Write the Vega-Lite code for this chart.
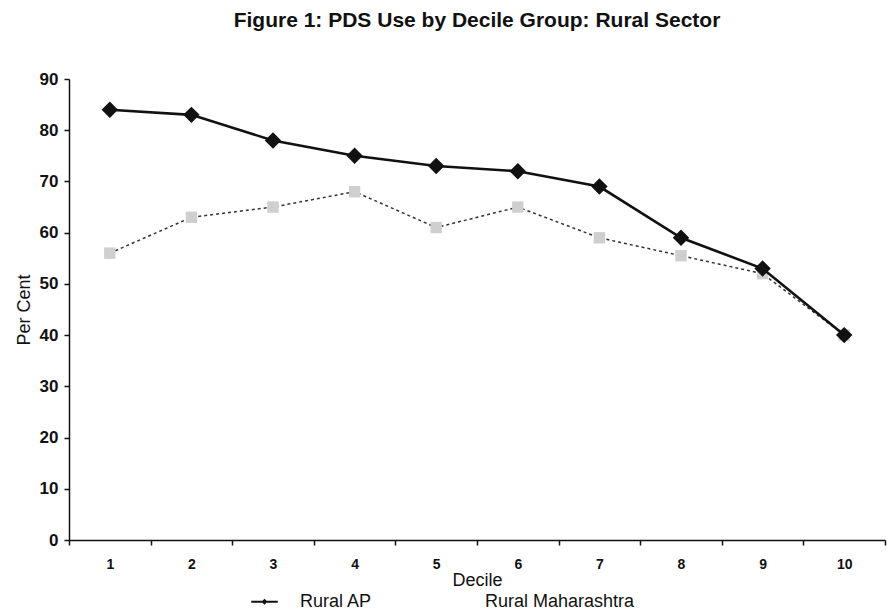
{
  "$schema": "https://vega.github.io/schema/vega-lite/v6.json",
  "width": 816,
  "height": 461,
  "autosize": {"type": "none"},
  "padding": {"left": 69, "top": 79, "right": 2, "bottom": 74},
  "background": "white",
  "config": {"view": {"stroke": null}, "font": "Liberation Sans"},
  "title": {"text": "Figure 1: PDS Use by Decile Group: Rural Sector", "font": "Liberation Sans", "fontSize": 21, "fontWeight": "bold", "color": "#111111", "anchor": "middle", "offset": 39},
  "data": {"values": [
    {"decile": 1, "series": "Rural AP", "value": 84},
    {"decile": 2, "series": "Rural AP", "value": 83},
    {"decile": 3, "series": "Rural AP", "value": 78},
    {"decile": 4, "series": "Rural AP", "value": 75},
    {"decile": 5, "series": "Rural AP", "value": 73},
    {"decile": 6, "series": "Rural AP", "value": 72},
    {"decile": 7, "series": "Rural AP", "value": 69},
    {"decile": 8, "series": "Rural AP", "value": 59},
    {"decile": 9, "series": "Rural AP", "value": 53},
    {"decile": 10, "series": "Rural AP", "value": 40},
    {"decile": 1, "series": "Rural Maharashtra", "value": 56},
    {"decile": 2, "series": "Rural Maharashtra", "value": 63},
    {"decile": 3, "series": "Rural Maharashtra", "value": 65},
    {"decile": 4, "series": "Rural Maharashtra", "value": 68},
    {"decile": 5, "series": "Rural Maharashtra", "value": 61},
    {"decile": 6, "series": "Rural Maharashtra", "value": 65},
    {"decile": 7, "series": "Rural Maharashtra", "value": 59},
    {"decile": 8, "series": "Rural Maharashtra", "value": 55.5},
    {"decile": 9, "series": "Rural Maharashtra", "value": 52},
    {"decile": 10, "series": "Rural Maharashtra", "value": 40}
  ]},
  "encoding": {
    "x": {"field": "decile", "type": "quantitative",
      "scale": {"domain": [0.5, 10.5], "nice": false, "zero": false},
      "axis": {
        "values": [0.5, 1, 1.5, 2, 2.5, 3, 3.5, 4, 4.5, 5, 5.5, 6, 6.5, 7, 7.5, 8, 8.5, 9, 9.5, 10, 10.5],
        "labelExpr": "datum.value % 1 == 0 ? format(datum.value, 'd') : ''",
        "tickOpacity": {"condition": {"test": "datum.value % 1 != 0", "value": 1}, "value": 0},
        "grid": false, "domainColor": "#111111", "domainWidth": 1.5, "tickColor": "#111111", "tickSize": 5, "tickWidth": 1.5,
        "labelFont": "Liberation Sans", "labelFontSize": 14, "labelFontWeight": "bold", "labelColor": "#111111", "labelPadding": 12,
        "title": "Decile", "titleFont": "Liberation Sans", "titleFontSize": 18, "titleFontWeight": "normal", "titleColor": "#111111", "titlePadding": 0
      }},
    "y": {"field": "value", "type": "quantitative",
      "scale": {"domain": [0, 90], "nice": false},
      "axis": {
        "values": [0, 10, 20, 30, 40, 50, 60, 70, 80, 90],
        "grid": false, "domainColor": "#111111", "domainWidth": 1.5, "tickColor": "#111111", "tickSize": 5, "tickWidth": 1.5,
        "labelFont": "Liberation Sans", "labelFontSize": 17, "labelFontWeight": "bold", "labelColor": "#111111", "labelPadding": 6,
        "title": "Per Cent", "titleFont": "Liberation Sans", "titleFontSize": 18, "titleFontWeight": "normal", "titleColor": "#111111", "titlePadding": 6
      }}
  },
  "layer": [
    {
      "transform": [{"filter": "datum.series === 'Rural Maharashtra'"}],
      "mark": {"type": "line", "strokeWidth": 1.5, "strokeDash": [3, 3]},
      "encoding": {
        "color": {"field": "series", "type": "nominal",
          "scale": {"domain": ["Rural AP", "Rural Maharashtra"], "range": ["#111111", "#333333"]},
          "legend": {
            "orient": "none", "legendX": 168, "legendY": 495, "direction": "horizontal", "title": null,
            "symbolType": "M-0.5,0L0.5,0M0,-0.06L0.06,0L0,0.06L-0.06,0Z", "symbolSize": 2809, "symbolStrokeWidth": 2,
            "labelFont": "Liberation Sans", "labelFontSize": 18, "labelColor": "#111111", "labelOffset": 8, "columnPadding": 49,
            "encoding": {"symbols": {
              "opacity": {"condition": {"test": "datum.value === 'Rural AP'", "value": 1}, "value": 0},
              "fill": {"value": "#111111"}
            }}
          }}
      }
    },
    {
      "transform": [{"filter": "datum.series === 'Rural Maharashtra'"}],
      "mark": {"type": "point", "shape": "square", "filled": true, "size": 130, "color": "#cfcfcf", "opacity": 1}
    },
    {
      "transform": [{"filter": "datum.series === 'Rural AP'"}],
      "mark": {"type": "line", "strokeWidth": 2.6},
      "encoding": {
        "color": {"field": "series", "type": "nominal"}
      }
    },
    {
      "transform": [{"filter": "datum.series === 'Rural AP'"}],
      "mark": {"type": "point", "shape": "diamond", "filled": true, "size": 270, "color": "#111111", "opacity": 1}
    }
  ]
}
